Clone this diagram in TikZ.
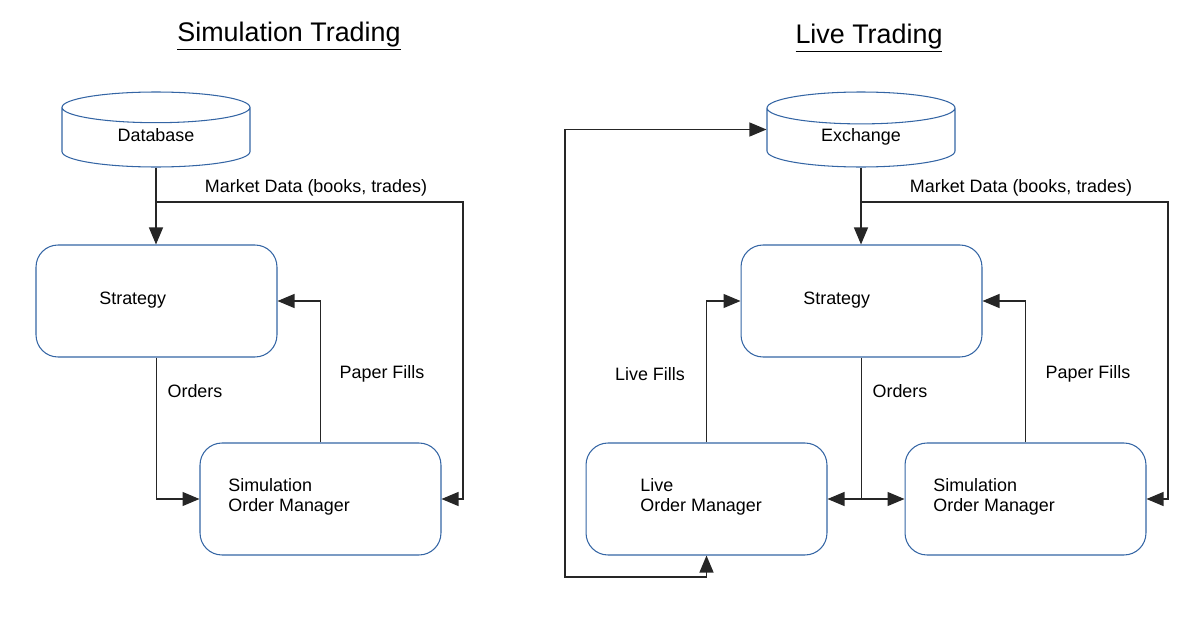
\documentclass[tikz,border=0pt]{standalone}
\usepackage{fontspec}
\setmainfont{Liberation Sans}
\usetikzlibrary{shapes,arrows.meta,positioning}
\definecolor{boxblue}{RGB}{52,101,164}

\begin{document}
\begin{tikzpicture}[x=0.02cm, y=-0.02cm,
  every node/.style={font=\fontsize{10.2}{11.4}\selectfont},
  >={Triangle[length=0.34cm,width=0.28cm]},
  box/.style={draw=boxblue, line width=0.6pt, rounded corners=0.44cm, minimum width=4.82cm, minimum height=2.24cm, inner sep=0pt},
  store/.style={draw=boxblue, line width=0.6pt, cylinder, shape border rotate=90, aspect=0.4, minimum width=3.76cm, minimum height=1.5cm, inner sep=0pt, anchor=shape center, text height=0.26cm, text depth=0.1cm},
  txt/.style={anchor=west, align=left, inner sep=0pt},
  heading/.style={font=\fontsize{15.3}{18}\selectfont},
  link/.style={draw=black!85, line width=0.7pt, ->}]
  \useasboundingbox (0,0) rectangle (1184,632);

  % simulation trading
  \node[heading] (t1) at (289,36) {\underline{Simulation Trading}};
  \node[store] (db1) at (156,129.5) {Database};
  \node[box] (strat1) at (156.5,301) {};
  \node[txt] (strat1txt) at (99,300) {Strategy};
  \node[box] (som1) at (320.5,499) {};
  \node[txt] (som1txt) at (228,497) {Simulation\\Order Manager};
  \coordinate (md1) at (463,202);

  \draw[link] (db1.south) -- (db1.south |- strat1.north);
  \draw[link] (db1.south |- md1) -- (md1) |- (som1.east);
  \draw[link] (strat1.south) |- (som1.west);
  \draw[link] (som1.north) |- (strat1.east);
  \node (md1lbl) at (316,188) {Market Data (books, trades)};
  \node (ord1lbl) at (195,391) {Orders};
  \node (pf1lbl) at (382,374) {Paper Fills};

  % live trading
  \node[heading] (t2) at (869,38) {\underline{Live Trading}};
  \node[store] (db2) at (861,129.5) {Exchange};
  \node[box] (strat2) at (861.5,301) {};
  \node[txt] (strat2txt) at (803,300) {Strategy};
  \node[box] (lom) at (706.5,499) {};
  \node[txt] (lomtxt) at (640,497) {Live\\Order Manager};
  \node[box] (som2) at (1025.5,499) {};
  \node[txt] (som2txt) at (933,497) {Simulation\\Order Manager};
  \coordinate (md2) at (1168,202);
  \coordinate (loop) at (565,577);

  \draw[link] (db2.south) -- (db2.south |- strat2.north);
  \draw[link] (db2.south |- md2) -- (md2) |- (som2.east);
  \draw[draw=black!85, line width=0.7pt] (strat2.south) -- (strat2.south |- som2.west);
  \draw[link] (strat2.south |- lom.east) -- (lom.east);
  \draw[link] (strat2.south |- som2.west) -- (som2.west);
  \draw[link] (lom.north) |- (strat2.west);
  \draw[link] (som2.north) |- (strat2.east);
  \draw[link, <->] (lom.south) -- (lom.south |- loop) -- (loop) |- (db2.shape center -| db2.west);
  \node (md2lbl) at (1021,188) {Market Data (books, trades)};
  \node (ord2lbl) at (900,391) {Orders};
  \node (lflbl) at (650,374) {Live Fills};
  \node (pf2lbl) at (1088,374) {Paper Fills};
\end{tikzpicture}
\end{document}
